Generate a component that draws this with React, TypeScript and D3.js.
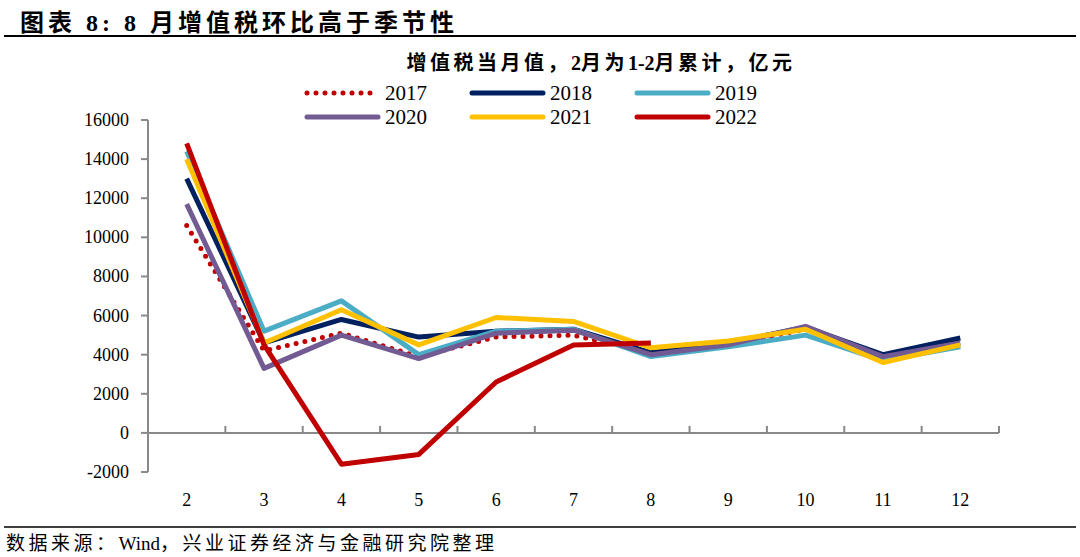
import React from 'react'
import * as d3 from 'd3'

const months = ['2', '3', '4', '5', '6', '7', '8', '9', '10', '11', '12']
const yTicks = [-2000, 0, 2000, 4000, 6000, 8000, 10000, 12000, 14000, 16000]

const s2017 = [10600, 4200, 5100, 3900, 4900, 5000, 4100, 4500, 5300, 3900, 4700]
const s2018 = [13000, 4600, 5800, 4900, 5200, 5300, 4100, 4600, 5400, 4000, 4850]
const s2019 = [14400, 5200, 6750, 4000, 5200, 5300, 3900, 4400, 5000, 3700, 4400]
const s2020 = [11700, 3300, 5000, 3800, 5100, 5250, 4000, 4500, 5450, 3900, 4600]
const s2021 = [14000, 4600, 6300, 4500, 5900, 5700, 4350, 4700, 5300, 3600, 4500]
const s2022 = [14800, 4500, -1600, -1100, 2600, 4500, 4600]

const series = [
  { name: '2017', values: s2017, color: '#C00000', dotted: true },
  { name: '2018', values: s2018, color: '#002060', dotted: false },
  { name: '2019', values: s2019, color: '#4BACC6', dotted: false },
  { name: '2020', values: s2020, color: '#725A93', dotted: false },
  { name: '2021', values: s2021, color: '#FFC000', dotted: false },
  { name: '2022', values: s2022, color: '#C00000', dotted: false },
]

const W = 1080
const H = 557
const serif = '"Liberation Serif", "Times New Roman", serif'
const cjk = '"Liberation Serif", "Noto Sans CJK SC", serif'

const App: React.FC = () => {
  const x = d3.scaleBand().domain(months).range([148, 999])
  const y = d3.scaleLinear().domain([-2000, 16000]).range([472, 120])
  const cx = (m: string) => (x(m) ?? 0) + x.bandwidth() / 2

  const line = d3
    .line<number>()
    .x((_, i) => cx(months[i]))
    .y(d => y(d))

  const legendCols = [307, 472, 637]
  const legendRows = [93, 117]

  return (
    <svg width={W} height={H} style={{ position: 'absolute', left: 0, top: 0, background: '#fff' }}>
      <rect width={W} height={H} fill="#fff" />
      {/* heading */}
      <text x={20} y={31} fontFamily={cjk} fontSize={24} fontWeight="bold" fill="#000">
        <tspan letterSpacing={4}>图表 8: 8 月增值税环比高于季节性</tspan>
      </text>
      <line x1={4} x2={1076} y1={36} y2={36} stroke="#000" strokeWidth={1.8} />

      {/* chart title */}
      <text x={601} y={70} textAnchor="middle" fontFamily={cjk} fontSize={20} fontWeight="bold" fill="#000">
        <tspan letterSpacing={3.5}>增值税当月值，</tspan>
        <tspan>2</tspan>
        <tspan letterSpacing={3.5}>月为</tspan>
        <tspan>1-2</tspan>
        <tspan letterSpacing={3.5}>月累计，亿元</tspan>
      </text>

      {/* legend */}
      {series.map((s, i) => {
        const lx = legendCols[i % 3]
        const ly = legendRows[Math.floor(i / 3)]
        return (
          <g key={s.name}>
            <line
              x1={lx}
              x2={lx + 71}
              y1={ly}
              y2={ly}
              stroke={s.color}
              strokeWidth={5}
              strokeLinecap="round"
              strokeDasharray={s.dotted ? '0 9' : undefined}
            />
            <text x={lx + 78} y={ly + 7} fontFamily={serif} fontSize={21} fill="#000">
              {s.name}
            </text>
          </g>
        )
      })}

      {/* axes */}
      <line x1={148} x2={148} y1={y(16000)} y2={y(-2000)} stroke="#898989" strokeWidth={2} />
      {yTicks.map(t => (
        <g key={t}>
          <line x1={141} x2={148} y1={y(t)} y2={y(t)} stroke="#898989" strokeWidth={2} />
          <text x={129} y={y(t) + 6} textAnchor="end" fontFamily={serif} fontSize={18} fill="#000">
            {t}
          </text>
        </g>
      ))}
      <line x1={148} x2={999} y1={y(0)} y2={y(0)} stroke="#898989" strokeWidth={2} />
      {months.map(m => (
        <line
          key={'t' + m}
          x1={(x(m) ?? 0) + x.bandwidth()}
          x2={(x(m) ?? 0) + x.bandwidth()}
          y1={y(0) - 7}
          y2={y(0)}
          stroke="#898989"
          strokeWidth={2}
        />
      ))}
      {months.map(m => (
        <text key={'l' + m} x={cx(m)} y={506} textAnchor="middle" fontFamily={serif} fontSize={18} fill="#000">
          {m}
        </text>
      ))}

      {/* series */}
      {series.map(s => (
        <path
          key={'p' + s.name}
          d={line(s.values) ?? ''}
          fill="none"
          stroke={s.color}
          strokeWidth={5}
          strokeLinejoin="round"
          strokeLinecap={s.dotted ? 'round' : 'butt'}
          strokeDasharray={s.dotted ? '0 9' : undefined}
        />
      ))}

      {/* footer */}
      <line x1={4} x2={1076} y1={527} y2={527} stroke="#000" strokeWidth={1.5} />
      <text x={6} y={550} fontFamily={cjk} fontSize={19} fill="#000">
        <tspan letterSpacing={3.5}>数据来源：</tspan>
        <tspan>Wind</tspan>
        <tspan letterSpacing={3.5}>，兴业证券经济与金融研究院整理</tspan>
      </text>
    </svg>
  )
}

export default App
